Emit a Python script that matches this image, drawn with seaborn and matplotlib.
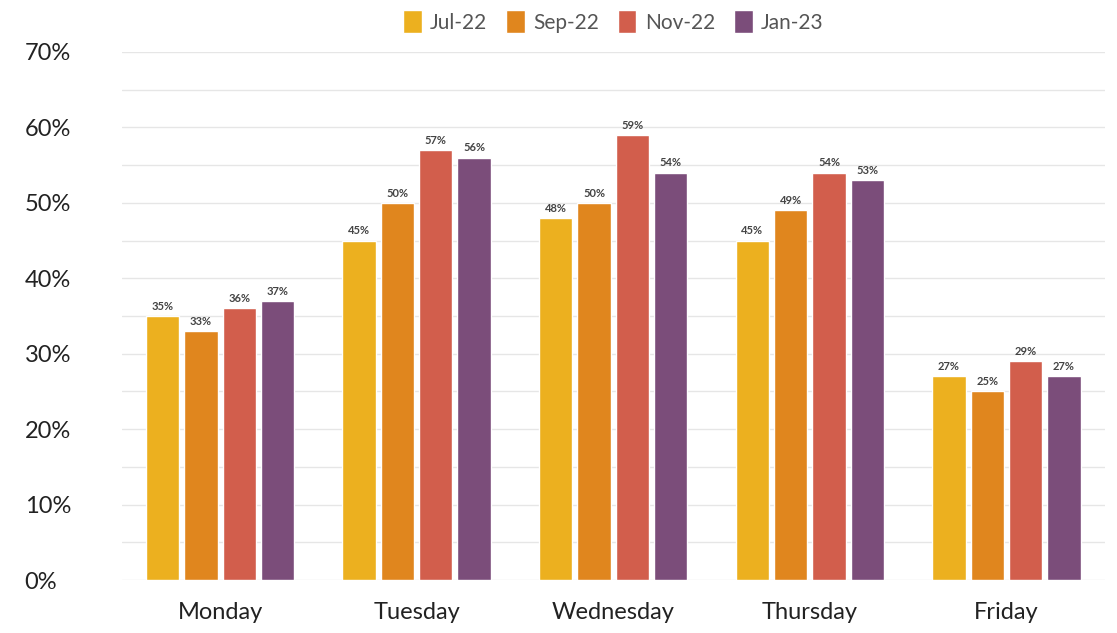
import pandas as pd
import numpy as np
import matplotlib.pyplot as plt
import seaborn as sns
from matplotlib.ticker import MultipleLocator, FuncFormatter

### Data
days = ['Monday', 'Tuesday', 'Wednesday', 'Thursday', 'Friday']
periods = ['Jul-22', 'Sep-22', 'Nov-22', 'Jan-23']
jul22 = [35, 45, 48, 45, 27]
sep22 = [33, 50, 50, 49, 25]
nov22 = [36, 57, 59, 54, 29]
jan23 = [37, 56, 54, 53, 27]
colors = ['#ECB01F', '#E0861E', '#D25E4C', '#7B4D7A']

df = pd.DataFrame({'day': days * 4,
                   'period': np.repeat(periods, len(days)),
                   'value': jul22 + sep22 + nov22 + jan23})

sns.set_style('white')
plt.rcParams['font.family'] = ['Lato', 'DejaVu Sans']

fig = plt.figure(figsize=(11.17, 6.33), dpi=100)
ax = fig.add_axes([0.109, 0.0837, 0.88, 0.8343])

sns.barplot(data=df, x='day', y='value', hue='period', palette=colors,
            saturation=1, width=0.78, gap=0.13, ax=ax, legend=True)

ax.set_ylim(0, 70)
ax.yaxis.set_major_locator(MultipleLocator(10))
ax.yaxis.set_minor_locator(MultipleLocator(5))
ax.yaxis.set_major_formatter(FuncFormatter(lambda v, p: '%d%%' % v))
ax.grid(axis='y', which='both', color='#e6e6e6', linewidth=1)
ax.set_axisbelow(True)
for s in ax.spines.values():
    s.set_visible(False)
ax.tick_params(axis='both', which='both', length=0, labelsize=17, colors='#222222')
ax.tick_params(axis='y', pad=70)
ax.tick_params(axis='x', pad=16)
for lbl in ax.get_yticklabels():
    lbl.set_horizontalalignment('left')
ax.set_xlabel('')
ax.set_ylabel('')

### Data labels on each bar
for cont in ax.containers:
    ax.bar_label(cont, fmt='%d%%', fontsize=8, fontweight='bold', color='#444444', padding=3)

ax.legend(loc='lower center', bbox_to_anchor=(0.5, 1.0), ncol=4, frameon=False,
          fontsize=15, handlelength=0.9, handleheight=1.3, handletextpad=0.4,
          columnspacing=0.9, labelcolor='#555555')

plt.savefig('out.png', dpi=100)
